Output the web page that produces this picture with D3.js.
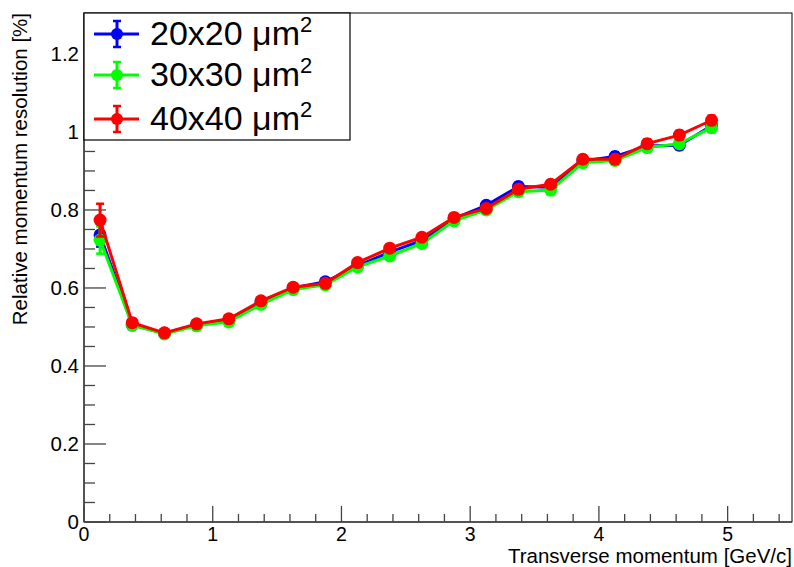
<!DOCTYPE html>
<html>
<meta charset="UTF-8">

<head>
  <script src="https://cdn.jsdelivr.net/npm/d3@7"></script>
  <style>
    body { margin: 0; background: white; }
    text { font-family: "Liberation Sans", Arial, sans-serif; fill: black; }
  </style>
</head>

<body>
  <svg id="chart" width="794" height="567"></svg>

  <script type="text/javascript">
    // bin centres in transverse momentum
    const pt = [0.125, 0.375, 0.625, 0.875, 1.125, 1.375, 1.625, 1.875, 2.125, 2.375,
                2.625, 2.875, 3.125, 3.375, 3.625, 3.875, 4.125, 4.375, 4.625, 4.875]

    const res20 = [0.736, 0.505, 0.484, 0.506, 0.516, 0.562, 0.600, 0.616, 0.657, 0.692,
                   0.722, 0.778, 0.812, 0.860, 0.858, 0.926, 0.937, 0.964, 0.966, 1.016]
    const res30 = [0.723, 0.505, 0.482, 0.503, 0.513, 0.558, 0.596, 0.608, 0.654, 0.682,
                   0.714, 0.772, 0.800, 0.847, 0.851, 0.921, 0.927, 0.960, 0.970, 1.011]
    const res40 = [0.774, 0.511, 0.485, 0.508, 0.521, 0.567, 0.602, 0.612, 0.665, 0.702,
                   0.730, 0.781, 0.804, 0.853, 0.866, 0.930, 0.930, 0.970, 0.992, 1.030]

    const err20 = [0.030, 0.008, 0.006, 0.006, 0.006, 0.007, 0.007, 0.007, 0.008, 0.008,
                   0.008, 0.009, 0.009, 0.010, 0.010, 0.010, 0.011, 0.011, 0.011, 0.012]
    const err30 = [0.035, 0.008, 0.006, 0.006, 0.006, 0.007, 0.007, 0.007, 0.008, 0.008,
                   0.008, 0.009, 0.009, 0.010, 0.010, 0.010, 0.011, 0.011, 0.011, 0.012]
    const err40 = [0.042, 0.008, 0.006, 0.006, 0.006, 0.007, 0.007, 0.007, 0.008, 0.008,
                   0.008, 0.009, 0.009, 0.010, 0.010, 0.010, 0.011, 0.011, 0.011, 0.012]

    const seriesNames = ["20x20", "30x30", "40x40"]
    const seriesColors = ["#0000ff", "#00ff00", "#ff0000"]
    const seriesValues = [res20, res30, res40]
    const seriesErrors = [err20, err30, err40]

    const xMajor = [0, 1, 2, 3, 4, 5]
    const yMajor = [0, 0.2, 0.4, 0.6, 0.8, 1, 1.2]

    const svg = d3.select("#chart")

    const x = d3.scaleLinear().domain([0, 5.5]).range([84, 792])
    const y = d3.scaleLinear().domain([0, 1.305]).range([522, 13])

    // frame
    svg.append("rect")
      .attr("x", 84).attr("y", 13)
      .attr("width", 708).attr("height", 509)
      .style("fill", "none")
      .style("stroke", "black")
      .style("stroke-width", 1)

    // x axis ticks
    const xMinor = d3.range(0, 5.5001, 0.2).filter(v => Math.abs(v - Math.round(v)) > 1e-6)
    const axisG = svg.append("g").style("stroke", "#444").style("stroke-width", 1.3)

    axisG.selectAll("line.xmaj").data(xMajor).enter().append("line")
      .attr("x1", d => x(d)).attr("x2", d => x(d))
      .attr("y1", 522).attr("y2", 506)
    axisG.selectAll("line.xmin").data(xMinor).enter().append("line")
      .attr("x1", d => x(d)).attr("x2", d => x(d))
      .attr("y1", 522).attr("y2", 514)

    const yMinor = d3.range(0, 1.3001, 0.05).filter(v => Math.abs(v * 5 - Math.round(v * 5)) > 1e-6)
    axisG.selectAll("line.ymaj").data(yMajor).enter().append("line")
      .attr("x1", 84).attr("x2", 106)
      .attr("y1", d => y(d)).attr("y2", d => y(d))
    axisG.selectAll("line.ymin").data(yMinor).enter().append("line")
      .attr("x1", 84).attr("x2", 95)
      .attr("y1", d => y(d)).attr("y2", d => y(d))

    // axis lines
    svg.append("line").attr("x1", 84).attr("x2", 792).attr("y1", 522).attr("y2", 522)
      .style("stroke", "#444").style("stroke-width", 1.5)
    svg.append("line").attr("x1", 84).attr("x2", 84).attr("y1", 13).attr("y2", 522)
      .style("stroke", "#444").style("stroke-width", 1.5)

    // tick labels
    svg.selectAll("text.xlab").data(xMajor).enter().append("text")
      .attr("x", d => x(d)).attr("y", 541)
      .style("text-anchor", "middle")
      .style("font-size", "19.5px")
      .text(d => d)

    svg.selectAll("text.ylab").data(yMajor).enter().append("text")
      .attr("x", 79).attr("y", d => y(d) + 7)
      .style("text-anchor", "end")
      .style("font-size", "20.5px")
      .text(d => d)

    // axis titles
    svg.append("text")
      .attr("x", 792).attr("y", 563)
      .style("text-anchor", "end")
      .style("font-size", "20.5px")
      .text("Transverse momentum [GeV/c]")

    svg.append("text")
      .attr("transform", "translate(27,13) rotate(-90)")
      .style("text-anchor", "end")
      .style("font-size", "20.5px")
      .text("Relative momentum resolution [%]")

    // series
    const line = d3.line().x(d => x(d.x)).y(d => y(d.y))
    const plotG = svg.append("g")

    seriesValues.forEach((vals, i) => {
      const pts = pt.map((p, j) => ({ x: p, y: vals[j], e: seriesErrors[i][j] }))
      const g = plotG.append("g")
      const col = seriesColors[i]

      g.append("path")
        .datum(pts)
        .attr("d", line)
        .style("fill", "none")
        .style("stroke", col)
        .style("stroke-width", 3)

      g.selectAll("line.err").data(pts).enter().append("line")
        .attr("x1", d => x(d.x)).attr("x2", d => x(d.x))
        .attr("y1", d => y(d.y - d.e)).attr("y2", d => y(d.y + d.e))
        .style("stroke", col).style("stroke-width", 3)

      g.selectAll("line.cap").data(pts.flatMap(d => [d.y - d.e, d.y + d.e].map(v => ({ x: d.x, v }))))
        .enter().append("line")
        .attr("x1", d => x(d.x) - 4).attr("x2", d => x(d.x) + 4)
        .attr("y1", d => y(d.v)).attr("y2", d => y(d.v))
        .style("stroke", col).style("stroke-width", 2.5)

      g.selectAll("circle").data(pts).enter().append("circle")
        .attr("cx", d => x(d.x)).attr("cy", d => y(d.y))
        .attr("r", 6.5)
        .style("fill", col)
    })

    // legend
    const leg = svg.append("g")
    leg.append("rect")
      .attr("x", 84).attr("y", 13)
      .attr("width", 266).attr("height", 127)
      .style("fill", "white")
      .style("stroke", "black")
      .style("stroke-width", 1.2)

    const legRows = [34, 75, 119]
    seriesNames.forEach((name, i) => {
      const cy = legRows[i]
      const col = seriesColors[i]
      const r = leg.append("g")
      r.append("line").attr("x1", 94).attr("x2", 139).attr("y1", cy).attr("y2", cy)
        .style("stroke", col).style("stroke-width", 3)
      r.append("line").attr("x1", 117).attr("x2", 117).attr("y1", cy - 13).attr("y2", cy + 13)
        .style("stroke", col).style("stroke-width", 3)
      r.append("line").attr("x1", 113).attr("x2", 121).attr("y1", cy - 13).attr("y2", cy - 13)
        .style("stroke", col).style("stroke-width", 2.5)
      r.append("line").attr("x1", 113).attr("x2", 121).attr("y1", cy + 13).attr("y2", cy + 13)
        .style("stroke", col).style("stroke-width", 2.5)
      r.append("circle").attr("cx", 117).attr("cy", cy).attr("r", 6).style("fill", col)

      const t = r.append("text")
        .attr("x", 150).attr("y", cy + 11)
        .style("font-size", "34px")
      t.append("tspan").text(name + " \u03bcm")
      t.append("tspan").attr("dy", -13).style("font-size", "22px").text("2")
    })
  </script>
</body>

</html>
